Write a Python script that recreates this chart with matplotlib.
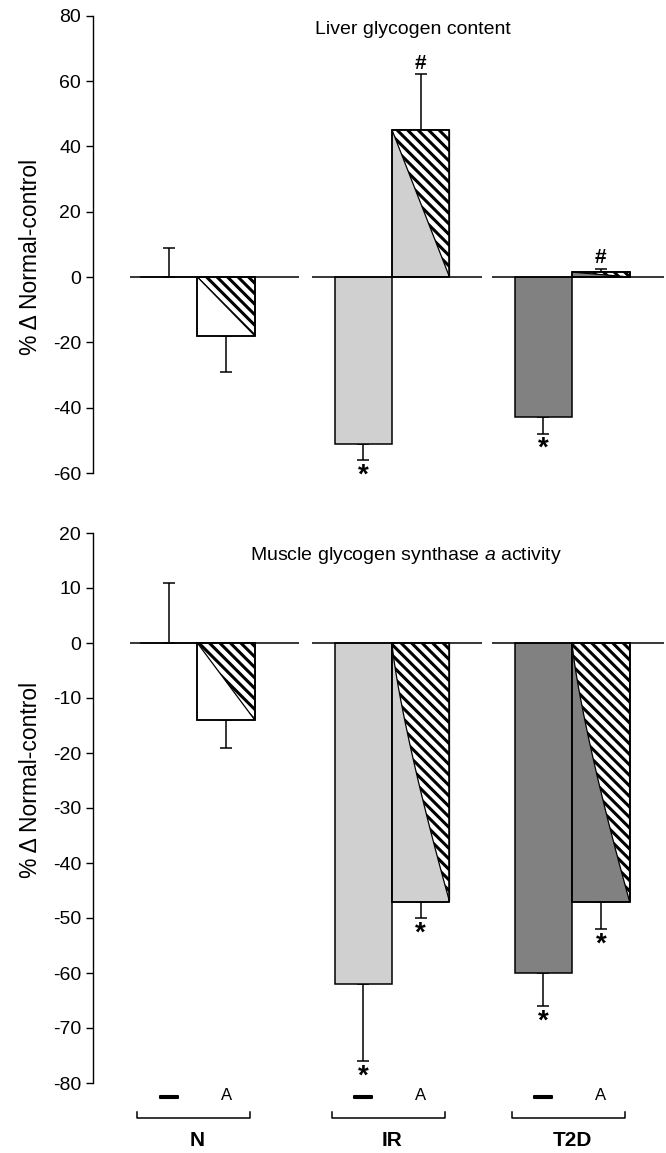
import numpy as np
import matplotlib.pyplot as plt
from matplotlib.patches import Polygon
from matplotlib.transforms import blended_transform_factory
import matplotlib.patheffects as pe

plt.rcParams['font.family'] = ['Liberation Sans', 'DejaVu Sans']
plt.rcParams['mathtext.fontset'] = 'custom'
plt.rcParams['mathtext.rm'] = 'Liberation Sans'
plt.rcParams['mathtext.it'] = 'Liberation Sans:italic'
plt.rcParams['axes.unicode_minus'] = False

groups = ['N', 'IR', 'T2D']
treat = ['—', 'A']

# liver glycogen content, % change vs normal control
liver_ctrl = [0, -51, -43]
liver_ctrl_err = [9, 5, 5]
liver_a = [-18, 45, 1.5]
liver_a_err = [11, 17, 1]
liver_sig_ctrl = ['', '*', '*']
liver_sig_a = ['', '#', '#']

# muscle glycogen synthase a activity
gs_ctrl = [0, -62, -60]
gs_ctrl_err = [11, 14, 6]
gs_a = [-14, -47, -47]
gs_a_err = [5, 3, 5]
gs_sig_ctrl = ['', '*', '*']
gs_sig_a = ['', '*', '*']

fills = ['white', '#d0d0d0', '#818181']

# layout
W, H = 666, 1153
xpos = np.array([0.0, 1.0, 1.925])
bw = 0.295
base_lo = np.array([-0.345, -0.41, -0.41])
base_hi = np.array([0.52, 0.46, 0.47])
xlim = (-0.536, 2.407)


def hatch_wedge(ax, x, val, p):
    # striped wedge in the upper right of the bar, built in screen pixels
    x0, y0 = ax.transData.transform((x - bw / 2, max(val, 0)))
    x1, y1 = ax.transData.transform((x + bw / 2, min(val, 0)))
    t = np.linspace(0, 1, 40)
    edge = np.column_stack([x0 + (x1 - x0) * t ** p, y0 - (y0 - y1) * t])
    pts = np.vstack([edge, [[x1, y0]]])
    inv = ax.transData.inverted()
    poly = Polygon(inv.transform(pts), closed=True, fc='white', ec='black',
                   lw=0.9, zorder=3)
    ax.add_patch(poly)
    h = y0 - y1
    step = 10.5
    for c in np.arange(x0 - h, x1 + step, step):
        seg = np.array([[c, y0 + 5], [c + h + 10, y0 - h - 5]])
        ln, = ax.plot(*inv.transform(seg).T, color='black', lw=2.2,
                      solid_capstyle='butt', zorder=3)
        ln.set_clip_path(poly)


def panel(ax, ctrl, ctrl_err, a, a_err, sig_c, sig_a, ylim, ticks, curves):
    ax.set_xlim(*xlim)
    ax.set_ylim(*ylim)
    ctrl = np.array(ctrl, float)
    a = np.array(a, float)
    xc = xpos - bw / 2
    xa = xpos + bw / 2

    ax.bar(xc, ctrl, bw, color=fills, edgecolor='black', lw=1.1, zorder=2)
    ax.bar(xa, a, bw, color=fills, edgecolor='black', lw=1.1, zorder=2)
    for x, v, p in zip(xa, a, curves):
        hatch_wedge(ax, x, v, p)
    ax.bar(xa, a, bw, fill=False, edgecolor='black', lw=1.1, zorder=4)

    for xs, vals, errs, sigs in [(xc, ctrl, ctrl_err, sig_c), (xa, a, a_err, sig_a)]:
        errs = np.array(errs, float)
        d = np.where(vals < 0, -1, 1)
        lower = np.where(d < 0, errs, 0)
        upper = np.where(d > 0, errs, 0)
        ax.errorbar(xs, vals, yerr=[lower, upper], fmt='none', ecolor='black',
                    elinewidth=1.1, capsize=4, capthick=1.1, zorder=1)
        for x, v, e, dd, s in zip(xs, vals, errs, d, sigs):
            if s == '*':
                ax.annotate('*', (x, v + dd * e), xytext=(0, -11),
                            textcoords='offset points', ha='center', va='center',
                            fontsize=20, fontweight='bold')
            elif s == '#':
                ax.annotate('#', (x, v + dd * e), xytext=(0, 8),
                            textcoords='offset points', ha='center', va='center',
                            fontsize=15, fontweight='bold')

    ax.hlines(np.zeros(3), xpos + base_lo, xpos + base_hi, color='black',
              lw=1.1, zorder=5)

    for side in ['top', 'right', 'bottom']:
        ax.spines[side].set_visible(False)
    ax.spines['left'].set_linewidth(1.0)
    ax.set_xticks([])
    ax.set_yticks(ticks)
    ax.tick_params(axis='y', labelsize=14, length=5, width=1, pad=3.5)


fig = plt.figure(figsize=(W / 100, H / 100), dpi=100)
ax1 = fig.add_axes([93 / W, 1 - 473 / H, (W - 93) / W, (473 - 15.7) / H])
ax2 = fig.add_axes([93 / W, 1 - 1083 / H, (W - 93) / W, (1083 - 533) / H])

panel(ax1, liver_ctrl, liver_ctrl_err, liver_a, liver_a_err,
      liver_sig_ctrl, liver_sig_a, (-60, 80), np.arange(-60, 81, 20), [1, 1, 1])
panel(ax2, gs_ctrl, gs_ctrl_err, gs_a, gs_a_err,
      gs_sig_ctrl, gs_sig_a, (-80, 20), np.arange(-80, 21, 10), [1, 1.25, 1.25])

fig.text(413 / W, 1 - 30 / H, 'Liver glycogen content', ha='center',
         va='center', fontsize=14)
fig.text(406 / W, 1 - 555 / H, 'Muscle glycogen synthase $\\mathit{a}$ activity',
         ha='center', va='center', fontsize=14)
fig.text(31 / W, 1 - 257 / H, '% Δ Normal-control', rotation=90,
         ha='center', va='center', fontsize=16.5)
fig.text(31 / W, 1 - 780 / H, '% Δ Normal-control', rotation=90,
         ha='center', va='center', fontsize=16.5)

# treatment and group labels under the lower panel
tr = blended_transform_factory(ax2.transData, fig.transFigure)
for x, g in zip(xpos, groups):
    ax2.text(x - bw / 2, 1 - 1097 / H, treat[0], ha='center', va='center',
             fontsize=13, fontweight='bold', transform=tr,
             path_effects=[pe.withStroke(linewidth=1.5, foreground='black')])
    ax2.text(x + bw / 2, 1 - 1096 / H, treat[1], ha='center', va='center',
             fontsize=12, transform=tr)
    ax2.plot([x - 0.31, x - 0.31, x + 0.27, x + 0.27],
             [1 - 1112 / H, 1 - 1118 / H, 1 - 1118 / H, 1 - 1112 / H],
             color='black', lw=1.1, transform=tr, clip_on=False)
    ax2.text(x, 1 - 1140 / H, g, ha='center', va='center', fontsize=15,
             fontweight='bold', transform=tr)

fig.savefig('out.png', dpi=100)
